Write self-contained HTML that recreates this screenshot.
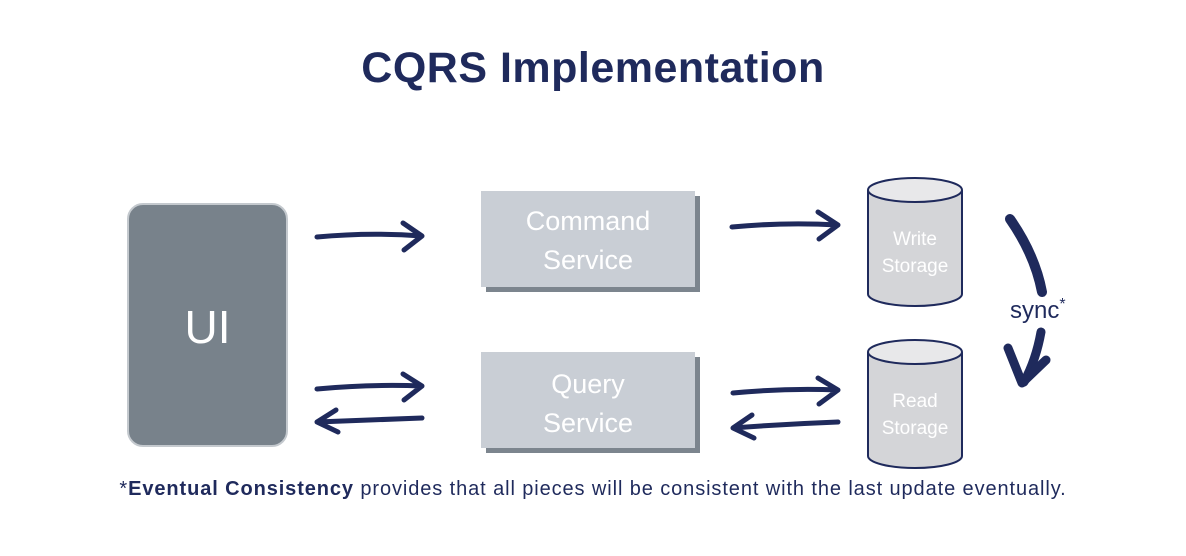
<!DOCTYPE html>
<html><head><style>
body{margin:0;width:1186px;height:556px;background:#fff;position:relative;overflow:hidden;font-family:"Liberation Sans",sans-serif}
.t{position:absolute;left:0;width:1186px;text-align:center;top:44px;font-size:43px;font-weight:bold;color:#1f2a5c;letter-spacing:0.5px}
.box{position:absolute;background:#c9ced5;box-shadow:5px 5px 0 #7c858e;color:#fff;font-size:27px;text-align:center;line-height:39px}
.ui{position:absolute;left:127px;top:203px;width:157px;height:240px;background:#78828b;border:2px solid #c4c9ce;border-radius:16px;color:#fff;font-size:46px;text-align:center;line-height:244px}
.foot{position:absolute;left:0;width:1186px;text-align:center;top:478px;font-size:20px;color:#1f2a5c;letter-spacing:0.9px}
</style></head><body>
<div class="t">CQRS Implementation</div>
<div class="ui">UI</div>
<div class="box" style="left:481px;top:191px;width:214px;height:96px"><div style="margin-top:11px">Command<br>Service</div></div>
<div class="box" style="left:481px;top:352px;width:214px;height:96px"><div style="margin-top:13px">Query<br>Service</div></div>
<svg width="1186" height="556" style="position:absolute;left:0;top:0">
<g fill="#d4d5d8" stroke="#1f2a5c" stroke-width="2">
<path d="M868,190 L868,294 A47,12 0 0 0 962,294 L962,190"/>
<ellipse cx="915" cy="190" rx="47" ry="12" fill="#e8e8ea"/>
<path d="M868,352 L868,456 A47,12 0 0 0 962,456 L962,352"/>
<ellipse cx="915" cy="352" rx="47" ry="12" fill="#e8e8ea"/>
</g>
<g fill="#fff" font-size="19" text-anchor="middle">
<text x="915" y="245">Write</text><text x="915" y="272">Storage</text>
<text x="915" y="407">Read</text><text x="915" y="434">Storage</text>
</g>
<g fill="none" stroke="#1f2a5c" stroke-width="5" stroke-linecap="round" stroke-linejoin="round">
<path d="M317,237 Q370,232 422,236 M403,223 L422,236 L404,250"/>
<path d="M317,389 Q370,384 422,386 M403,374 L422,386 L404,400"/>
<path d="M422,418 Q370,420 317,422 M336,410 L317,422 L338,432"/>
<path d="M732,227 Q785,222 838,225 M818,212 L838,225 L819,239"/>
<path d="M733,393 Q785,388 838,390 M818,378 L838,390 L819,404"/>
<path d="M838,422 Q785,424 733,428 M752,415 L733,428 L754,438"/>
</g>
<g fill="none" stroke="#1f2a5c" stroke-linecap="round" stroke-linejoin="round">
<path d="M1010,219 Q1035,255 1042,292" stroke-width="10"/>
<path d="M1041,332 Q1036,360 1024,382" stroke-width="9"/>
<path d="M1008,348 L1022,383 L1046,360" stroke-width="9"/>
</g>
<text x="1010" y="318" font-size="24" fill="#1f2a5c">sync<tspan font-size="16" dy="-9">*</tspan></text>
</svg>
<div class="foot">*<b>Eventual Consistency</b> provides that all pieces will be consistent with the last update eventually.</div>
</body></html>
